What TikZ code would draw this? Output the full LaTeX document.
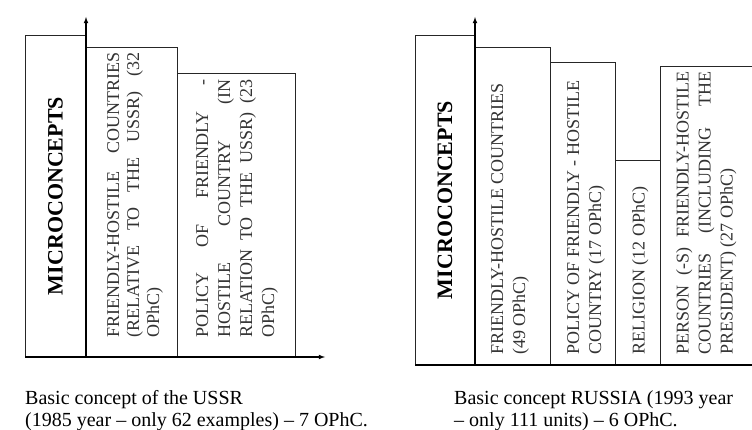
\documentclass[tikz,border=0pt]{standalone}
\usepackage{fontspec}
\setmainfont{Liberation Serif}
\usepackage{tikz}
\usetikzlibrary{positioning}
\usetikzlibrary{arrows}
\tikzstyle{arrow} = [line width=1.1pt,->,>=latex]
\tikzstyle{bar} = [draw=black!85, line width=0.8pt]
\tikzstyle{bartext} = [rotate=90, anchor=north west, inner sep=0pt, text=black!80, font=\fontsize{18}{22}\selectfont]
\tikzstyle{micro} = [rotate=90, inner sep=0pt, font=\fontsize{22}{24}\selectfont\bfseries]
\tikzstyle{caption} = [anchor=north west, inner sep=0pt, align=left, font=\fontsize{20}{22}\selectfont]

\begin{document}
\begin{tikzpicture}[x=1pt, y=-1pt]
	\useasboundingbox[fill=white] (0,0) rectangle (752,430);
	\hyphenpenalty=10000
	
	%Coordinates
	\coordinate (originUSSR) at (86,357);
	\coordinate (topUSSR) at (86,17);
	\coordinate (startUSSR) at (25,357);
	\coordinate (endUSSR) at (325,357);
	\coordinate (originRussia) at (475,365);
	\coordinate (topRussia) at (475,17);
	\coordinate (startRussia) at (415,365);
	\coordinate (endRussia) at (752,365);
	
	%Bars USSR
	\draw[bar] (25,357) rectangle (86,35);
	\draw[bar] (86,357) rectangle (177,47);
	\draw[bar] (177,357) rectangle (295,73);
	
	%Bars Russia
	\draw[bar] (415,365) rectangle (475,35);
	\draw[bar] (475,365) rectangle (550,47);
	\draw[bar] (550,365) rectangle (615,62);
	\draw[bar] (615,365) rectangle (660,160);
	\draw[bar] (660,365) -- (660,66) -- (752,66);
	
	%Nodes USSR
	\node[micro] (microUSSR) at (55.5,196) {MICROCONCEPTS};
	\node[bartext, text width=285pt, align=justify, font=\fontsize{18}{20}\selectfont] (friendUSSR) at (107,338)
		{FRIENDLY-HOSTILE COUNTRIES\linebreak (RELATIVE TO THE USSR) (32\linebreak OPhC)};
	\node[bartext, text width=258pt, align=justify] (policyUSSR) at (196,338)
		{POLICY OF FRIENDLY -\linebreak HOSTILE COUNTRY (IN\linebreak RELATION TO THE USSR) (23\linebreak OPhC)};
	
	%Nodes Russia
	\node[micro] (microRussia) at (445,200) {MICROCONCEPTS};
	\node[bartext, align=left] (friendRussia) at (491,355)
		{FRIENDLY-HOSTILE COUNTRIES\\ (49 OPhC)};
	\node[bartext, align=left] (policyRussia) at (567,355)
		{POLICY OF FRIENDLY - HOSTILE\\ COUNTRY (17 OPhC)};
	\node[bartext, align=left] (religionRussia) at (632,355) {RELIGION (12 OPhC)};
	\node[bartext, text width=283pt, align=justify] (personRussia) at (676,355)
		{PERSON (-S) FRIENDLY-HOSTILE\linebreak COUNTRIES (INCLUDING THE\linebreak PRESIDENT) (27 OPhC)};
	
	%Captions
	\node[caption] (captionUSSR) at (25,390)
		{Basic concept of the USSR\\(1985 year -- only 62 examples) -- 7 OPhC.};
	\node[caption] (captionRussia) at (454,390)
		{Basic concept RUSSIA (1993 year\\-- only 111 units) -- 6 OPhC.};
	
	%Arrows
	\draw[arrow] (originUSSR) -- (topUSSR);
	\draw[arrow] (startUSSR) -- (endUSSR);
	\draw[arrow] (originRussia) -- (topRussia);
	\draw[line width=1.1pt] (startRussia) -- (endRussia);
\end{tikzpicture}
\end{document}
